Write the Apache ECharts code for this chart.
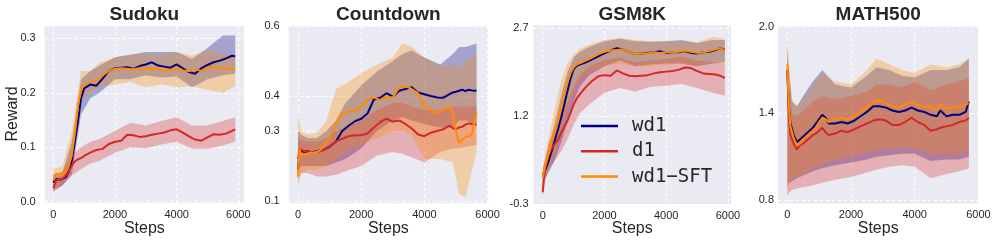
<!DOCTYPE html>
<html><head><meta charset="utf-8">
<script src="https://cdn.jsdelivr.net/npm/echarts@6/dist/echarts.min.js"></script>
<style>html,body{margin:0;padding:0;background:#fff}#c{width:996px;height:244px}</style>
</head><body><div id="c"></div>
<script>
// ---------------- data ----------------
const seriesNames = ['wd1', 'd1', 'wd1\u2212SFT'];
const titles = ['Sudoku', 'Countdown', 'GSM8K', 'MATH500'];
const xTicks = [0, 2000, 4000, 6000];
const sudokuYTicks = [0, 0.1, 0.2, 0.3];
const countdownYTicks = [0.1, 0.3, 0.4, 0.6];
const gsmYTicks = [-0.3, 1.2, 2.7];
const mathYTicks = [0.8, 1.4, 2.0];

// Sudoku
const sudokuSteps = [0,100,200,300,400,500,600,700,800,900,1000,1200,1400,1600,1800,2000,2200,2400,2600,2800,3000,3200,3400,3600,3800,4000,4200,4400,4600,4800,5000,5200,5400,5600,5800,5900];
const sudokuWd1 = [0.035,0.042,0.040,0.042,0.045,0.055,0.075,0.110,0.148,0.190,0.208,0.215,0.213,0.226,0.240,0.245,0.246,0.247,0.244,0.249,0.252,0.256,0.250,0.248,0.246,0.252,0.245,0.238,0.235,0.245,0.251,0.256,0.259,0.263,0.268,0.267];
const sudokuD1 = [0.025,0.040,0.040,0.042,0.048,0.056,0.066,0.074,0.078,0.080,0.084,0.090,0.095,0.097,0.106,0.110,0.112,0.123,0.122,0.119,0.120,0.123,0.125,0.127,0.131,0.133,0.127,0.120,0.114,0.112,0.118,0.124,0.123,0.125,0.130,0.133];
const sudokuSft = [0.038,0.052,0.048,0.050,0.055,0.065,0.085,0.125,0.175,0.205,0.215,0.220,0.222,0.232,0.240,0.244,0.245,0.244,0.243,0.245,0.244,0.243,0.244,0.240,0.242,0.246,0.241,0.240,0.243,0.240,0.247,0.248,0.245,0.244,0.244,0.243];
const sudokuBandSteps = [0,300,600,900,1200,1500,2000,2500,3000,3500,4000,4500,5000,5500,5900];
const sudokuWd1Hi = [0.050,0.055,0.110,0.225,0.240,0.250,0.265,0.270,0.275,0.275,0.275,0.262,0.282,0.305,0.305];
const sudokuWd1Lo = [0.020,0.030,0.050,0.160,0.190,0.200,0.225,0.225,0.232,0.228,0.230,0.210,0.225,0.232,0.235];
const sudokuD1Hi = [0.035,0.055,0.085,0.100,0.110,0.115,0.130,0.145,0.140,0.148,0.155,0.140,0.140,0.148,0.155];
const sudokuD1Lo = [0.018,0.030,0.048,0.060,0.070,0.075,0.090,0.100,0.098,0.105,0.110,0.097,0.097,0.103,0.110];
const sudokuSftHi = [0.060,0.065,0.130,0.240,0.240,0.255,0.265,0.270,0.272,0.270,0.275,0.268,0.278,0.272,0.270];
const sudokuSftLo = [0.020,0.035,0.055,0.185,0.200,0.210,0.215,0.220,0.210,0.215,0.210,0.212,0.205,0.200,0.212];

// Countdown
const countdownSteps = [0,50,100,200,300,400,500,600,700,800,900,1000,1200,1400,1600,1800,2000,2200,2400,2600,2800,3000,3200,3400,3600,3800,4000,4200,4400,4600,4800,4900,5000,5100,5200,5300,5400,5500,5650];
const countdownWd1 = [0.190,0.245,0.240,0.240,0.242,0.240,0.240,0.242,0.245,0.246,0.250,0.255,0.270,0.300,0.315,0.328,0.335,0.350,0.390,0.395,0.408,0.398,0.415,0.420,0.425,0.410,0.405,0.400,0.396,0.395,0.405,0.410,0.412,0.415,0.418,0.414,0.418,0.416,0.415];
const countdownD1 = [0.220,0.250,0.245,0.242,0.240,0.240,0.240,0.240,0.242,0.245,0.250,0.256,0.270,0.278,0.285,0.288,0.288,0.293,0.310,0.325,0.335,0.327,0.330,0.320,0.307,0.290,0.285,0.295,0.300,0.305,0.315,0.308,0.305,0.310,0.312,0.318,0.322,0.320,0.318];
const countdownSft = [0.170,0.250,0.230,0.232,0.235,0.238,0.237,0.240,0.245,0.255,0.268,0.280,0.320,0.350,0.355,0.358,0.370,0.390,0.396,0.388,0.398,0.396,0.424,0.428,0.420,0.408,0.370,0.362,0.350,0.362,0.368,0.350,0.300,0.266,0.275,0.283,0.284,0.290,0.352];
const countdownBandSteps = [0,100,300,600,900,1200,1500,2000,2500,3000,3300,3600,4000,4500,4900,5100,5300,5650];
const countdownWd1Hi = [0.300,0.290,0.280,0.280,0.300,0.330,0.380,0.430,0.470,0.500,0.520,0.530,0.510,0.490,0.520,0.540,0.540,0.550];
const countdownWd1Lo = [0.180,0.200,0.200,0.200,0.200,0.210,0.220,0.250,0.300,0.330,0.340,0.330,0.320,0.310,0.310,0.330,0.330,0.320];
const countdownD1Hi = [0.280,0.275,0.270,0.270,0.280,0.300,0.310,0.330,0.360,0.380,0.380,0.370,0.360,0.360,0.370,0.370,0.370,0.370];
const countdownD1Lo = [0.160,0.180,0.180,0.170,0.170,0.175,0.185,0.200,0.230,0.240,0.235,0.225,0.210,0.240,0.250,0.250,0.255,0.260];
const countdownSftHi = [0.350,0.300,0.290,0.295,0.330,0.420,0.435,0.465,0.490,0.510,0.550,0.540,0.510,0.485,0.490,0.480,0.500,0.520];
const countdownSftLo = [0.140,0.180,0.190,0.190,0.200,0.220,0.240,0.260,0.280,0.300,0.300,0.290,0.220,0.220,0.210,0.120,0.110,0.240];

// GSM8K
const gsmSteps = [0,50,100,200,300,400,500,600,700,800,900,1000,1100,1200,1400,1600,1800,2000,2200,2400,2600,2800,3000,3200,3400,3600,3800,4000,4200,4400,4600,4800,5000,5200,5400,5600,5750,5900];
const gsmWd1 = [0.20,0.22,0.30,0.45,0.62,0.80,0.98,1.18,1.40,1.62,1.84,2.00,2.06,2.08,2.12,2.17,2.22,2.27,2.32,2.36,2.34,2.30,2.26,2.27,2.28,2.29,2.31,2.28,2.29,2.29,2.31,2.28,2.27,2.29,2.30,2.33,2.36,2.33];
const gsmD1 = [-0.10,0.20,0.35,0.55,0.66,0.73,0.80,0.92,1.02,1.12,1.25,1.40,1.50,1.57,1.70,1.80,1.88,1.90,1.89,1.98,1.93,1.89,1.88,1.89,1.90,1.93,1.95,1.96,1.97,1.99,2.03,2.02,1.97,1.93,1.92,1.91,1.89,1.85];
const gsmSft = [0.15,0.30,0.40,0.57,0.78,0.96,1.16,1.36,1.58,1.78,1.93,2.03,2.08,2.10,2.15,2.20,2.26,2.30,2.32,2.33,2.34,2.30,2.26,2.27,2.27,2.29,2.28,2.29,2.29,2.30,2.32,2.30,2.28,2.29,2.31,2.34,2.36,2.32];
const gsmBandSteps = [0,100,200,400,600,800,1000,1200,1500,2000,2500,3000,3500,4000,4500,5000,5500,5900];
const gsmWd1Hi = [0.30,0.50,0.70,1.10,1.55,1.95,2.20,2.30,2.38,2.48,2.52,2.48,2.47,2.48,2.50,2.45,2.50,2.50];
const gsmWd1Lo = [0.05,0.15,0.25,0.45,0.75,1.10,1.45,1.70,1.90,2.05,2.15,2.05,2.08,2.10,2.10,2.05,2.10,2.12];
const gsmD1Hi = [0.05,0.50,0.75,0.95,1.20,1.45,1.70,1.90,2.05,2.15,2.20,2.12,2.15,2.18,2.22,2.15,2.12,2.10];
const gsmD1Lo = [-0.20,0.15,0.30,0.45,0.60,0.80,1.05,1.25,1.40,1.60,1.68,1.62,1.70,1.72,1.75,1.68,1.60,1.55];
const gsmSftHi = [0.30,0.60,0.85,1.35,1.80,2.10,2.25,2.35,2.42,2.50,2.54,2.50,2.48,2.48,2.48,2.46,2.55,2.52];
const gsmSftLo = [0.05,0.15,0.30,0.60,0.95,1.30,1.60,1.80,1.95,2.05,2.10,2.05,2.05,2.08,2.10,2.05,2.10,2.10];

// MATH500
const mathSteps = [0,50,100,200,300,400,500,600,700,800,900,1000,1100,1200,1300,1500,1700,1900,2100,2300,2500,2700,2900,3100,3300,3500,3700,3900,4100,4300,4500,4700,4800,5000,5200,5400,5600,5700];
const mathWd1 = [1.70,1.45,1.33,1.25,1.20,1.22,1.24,1.26,1.28,1.30,1.33,1.36,1.39,1.37,1.33,1.33,1.34,1.33,1.35,1.38,1.41,1.45,1.45,1.44,1.42,1.41,1.42,1.44,1.42,1.41,1.39,1.38,1.42,1.38,1.39,1.39,1.41,1.48];
const mathD1 = [1.70,1.38,1.25,1.19,1.15,1.18,1.19,1.21,1.23,1.25,1.26,1.28,1.30,1.27,1.25,1.26,1.28,1.27,1.29,1.31,1.33,1.35,1.36,1.35,1.32,1.32,1.34,1.37,1.34,1.32,1.28,1.29,1.30,1.31,1.32,1.34,1.35,1.37];
const mathSft = [1.74,1.45,1.31,1.23,1.18,1.19,1.22,1.24,1.26,1.28,1.30,1.34,1.37,1.36,1.34,1.36,1.37,1.36,1.38,1.41,1.44,1.48,1.49,1.47,1.45,1.44,1.46,1.48,1.46,1.44,1.45,1.42,1.46,1.43,1.44,1.45,1.46,1.47];
const mathBandSteps = [0,50,150,300,500,800,1100,1500,2000,2500,2800,3200,3600,4000,4500,5000,5400,5700];
const mathWd1Hi = [1.85,1.70,1.48,1.45,1.52,1.62,1.70,1.60,1.58,1.66,1.72,1.70,1.66,1.65,1.70,1.70,1.72,1.78];
const mathWd1Lo = [0.90,0.92,0.93,0.95,0.97,1.00,1.02,1.04,1.06,1.08,1.10,1.11,1.12,1.12,1.07,1.08,1.08,1.10];
const mathD1Hi = [1.85,1.60,1.40,1.38,1.42,1.48,1.52,1.50,1.52,1.55,1.60,1.60,1.58,1.62,1.56,1.60,1.62,1.65];
const mathD1Lo = [0.82,0.85,0.87,0.88,0.89,0.90,0.92,0.94,0.96,0.99,1.01,1.03,1.04,1.03,0.95,0.98,1.00,1.02];
const mathSftHi = [1.90,1.75,1.50,1.45,1.50,1.60,1.68,1.62,1.60,1.70,1.78,1.74,1.70,1.68,1.74,1.72,1.74,1.78];
const mathSftLo = [0.85,0.90,0.95,0.96,0.98,1.02,1.05,1.08,1.10,1.13,1.15,1.16,1.16,1.16,1.12,1.12,1.12,1.14];

// ---------------- chart ----------------
const colors = ['#000080', '#d62728', '#ff8c00'];
const panels = [
  {steps: sudokuSteps, lines: [sudokuWd1, sudokuD1, sudokuSft], bandSteps: sudokuBandSteps,
   bands: [[sudokuWd1Lo, sudokuWd1Hi], [sudokuD1Lo, sudokuD1Hi], [sudokuSftLo, sudokuSftHi]],
   grid: {left: 44.7, top: 26, width: 199.3, height: 177}, xr: [-279, 6185], yr: [-0.0024, 0.3226], yTicks: sudokuYTicks, lm: 9},
  {steps: countdownSteps, lines: [countdownWd1, countdownD1, countdownSft], bandSteps: countdownBandSteps,
   bands: [[countdownWd1Lo, countdownWd1Hi], [countdownD1Lo, countdownD1Hi], [countdownSftLo, countdownSftHi]],
   grid: {left: 288.7, top: 26, width: 199.3, height: 177.3}, xr: [-294, 6013], yr: [0.0934, 0.6], yTicks: countdownYTicks, lm: 9},
  {steps: gsmSteps, lines: [gsmWd1, gsmD1, gsmSft], bandSteps: gsmBandSteps,
   bands: [[gsmWd1Lo, gsmWd1Hi], [gsmD1Lo, gsmD1Hi], [gsmSftLo, gsmSftHi]],
   grid: {left: 533.5, top: 25, width: 197.5, height: 179}, xr: [-298, 6098], yr: [-0.3, 2.756], yTicks: gsmYTicks, lm: 5},
  {steps: mathSteps, lines: [mathWd1, mathD1, mathSft], bandSteps: mathBandSteps,
   bands: [[mathWd1Lo, mathWd1Hi], [mathD1Lo, mathD1Hi], [mathSftLo, mathSftHi]],
   grid: {left: 778, top: 26, width: 200.4, height: 177.5}, xr: [-292, 6000], yr: [0.776, 2.005], yTicks: mathYTicks, lm: 4}
];

const FONT = 'Liberation Sans, Arial, sans-serif';
const grids = [], xAxes = [], yAxes = [], series = [], graphics = [];

function bandSeries(gi, xs, lo, hi, color) {
  return {
    type: 'custom', xAxisIndex: gi, yAxisIndex: gi, silent: true, z: 1,
    data: xs.map((x, i) => [x, lo[i], hi[i]]),
    encode: {x: 0, y: [1, 2]},
    renderItem: function (params, api) {
      if (params.dataIndex !== 0) return;
      const pts = [];
      for (let i = 0; i < xs.length; i++) pts.push(api.coord([xs[i], hi[i]]));
      for (let i = xs.length - 1; i >= 0; i--) pts.push(api.coord([xs[i], lo[i]]));
      return {type: 'polygon', shape: {points: pts}, style: {fill: color, opacity: 0.3}};
    }
  };
}

panels.forEach((p, gi) => {
  grids.push(Object.assign({show: true, backgroundColor: '#EAEAF2', borderWidth: 0}, p.grid));
  const gridLine = {show: true, lineStyle: {color: '#ffffff', width: 1, type: [3, 3]}};
  xAxes.push({
    type: 'value', gridIndex: gi, min: p.xr[0], max: p.xr[1],
    axisLine: {show: false},
    axisTick: {show: false, customValues: xTicks},
    axisLabel: {customValues: xTicks, color: '#262626', fontSize: 11, fontFamily: FONT, margin: 6,
      formatter: v => String(Math.round(v))},
    splitLine: gridLine
  });
  yAxes.push({
    type: 'value', gridIndex: gi, min: p.yr[0], max: p.yr[1],
    axisLine: {show: false},
    axisTick: {show: false, customValues: p.yTicks},
    axisLabel: {customValues: p.yTicks, color: '#262626', fontSize: 11, fontFamily: FONT, margin: p.lm,
      formatter: v => v.toFixed(1)},
    splitLine: gridLine
  });
  p.bands.forEach((b, si) => series.push(bandSeries(gi, p.bandSteps, b[0], b[1], colors[si])));
  p.lines.forEach((vals, si) => series.push({
    type: 'line', name: seriesNames[si], xAxisIndex: gi, yAxisIndex: gi,
    data: p.steps.map((x, i) => [x, vals[i]]),
    symbol: 'none', showSymbol: false, z: 3 + si,
    lineStyle: {color: colors[si], width: 2}, itemStyle: {color: colors[si]}
  }));
  const cx = p.grid.left + p.grid.width / 2;
  graphics.push({type: 'text', x: cx, y: 14.5, style: {text: titles[gi], font: 'bold 19px ' + FONT,
    fill: '#262626', textAlign: 'center', textVerticalAlign: 'middle'}});
  graphics.push({type: 'text', x: cx, y: 228.5, style: {text: 'Steps', font: '16px ' + FONT,
    fill: '#262626', textAlign: 'center', textVerticalAlign: 'middle'}});
});
graphics.push({type: 'text', x: 13, y: 114, rotation: Math.PI / 2, style: {text: 'Reward', font: '16px ' + FONT,
  fill: '#262626', textAlign: 'center', textVerticalAlign: 'middle'}});

const chart = echarts.init(document.getElementById('c'), null, {renderer: 'canvas'});
chart.setOption({
  animation: false,
  backgroundColor: '#ffffff',
  grid: grids, xAxis: xAxes, yAxis: yAxes, series: series, graphic: graphics,
  legend: {
    data: seriesNames.map(n => ({name: n, icon: 'rect'})),
    orient: 'vertical', left: 581, top: 116.5, padding: 0,
    itemWidth: 37, itemHeight: 2.5, itemGap: 6.3, selectedMode: false,
    textStyle: {fontFamily: 'DejaVu Sans Mono', fontSize: 19, color: '#262626', padding: [0, 0, 0, 9]}
  }
});
</script></body></html>
